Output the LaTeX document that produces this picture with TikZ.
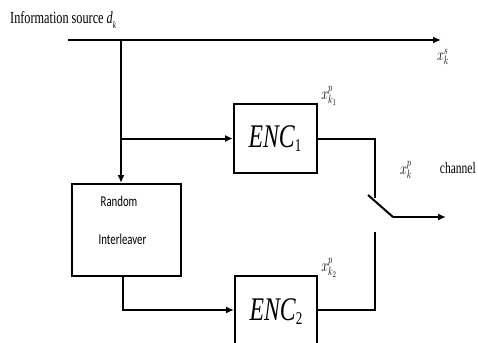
\documentclass[tikz,border=0pt]{standalone}
\usepackage{fontspec}
\usepackage{graphicx}
\setmainfont{Liberation Serif}
\newfontfamily\boxfont{Carlito}
\usetikzlibrary{arrows.meta}
\newcommand{\sqz}[1]{\scalebox{0.72}[1]{#1}}
\tikzset{
  wire/.style={line width=2pt},
  arr/.style={wire,-{Latex[length=8pt,width=7pt]}},
  blk/.style={draw,line width=2pt,rectangle,inner sep=0pt},
  lbl/.style={inner sep=0pt,font=\fontsize{18}{18}\selectfont},
}
\begin{document}
\begin{tikzpicture}[x=1pt,y=-1pt]
\useasboundingbox (0,0) rectangle (478,342);
\clip (0,0) rectangle (478,342);
% blocks
\node[blk,minimum width=83pt,minimum height=69pt] (enc1) at (275.5,138.5) {};
\node[font=\fontsize{33}{33}\selectfont] (enc1t) at (275,139) {\sqz{\textit{ENC}\raisebox{-0.12em}{\fontsize{18}{18}\selectfont 1}}};
\node[blk,minimum width=82pt,minimum height=69pt] (enc2) at (276,310) {};
\node[font=\fontsize{33}{33}\selectfont] (enc2t) at (276,312) {\sqz{\textit{ENC}\raisebox{-0.12em}{\fontsize{18}{18}\selectfont 2}}};
\node[blk,minimum width=109pt,minimum height=92pt] (inter) at (126.5,230) {};
\node[font=\boxfont\fontsize{15}{15}\selectfont] (rnd) at (119,201) {\sqz{Random}};
\node[font=\boxfont\fontsize{15}{15}\selectfont] (intl) at (122.5,239) {\sqz{Interleaver}};
% coordinates
\coordinate (src) at (68,40);
\coordinate (xs) at (441,40);
\coordinate (br) at (121,40);
\coordinate (br2) at (121,138.5);
\coordinate (j1) at (375,138.5);
\coordinate (j1b) at (375,198);
\coordinate (sw1) at (368,195);
\coordinate (sw2) at (393,217);
\coordinate (ch) at (446,217);
\coordinate (j2) at (375,310);
\coordinate (j2b) at (375,232);
% connectors
\draw[arr] (src) -- (xs);
\draw[arr] (br) -- (br |- inter.north);
\draw[arr] (br2) -- (enc1.west);
\draw[wire] (enc1.east) -- (j1) -- (j1b);
\draw[wire] (sw1) -- (sw2);
\draw[arr] (sw2) -- (ch);
\draw[wire] (enc2.east) -- (j2) -- (j2b);
\draw[arr] ([xshift=-3.5pt]inter.south) |- (enc2.west);
% labels
\node[lbl,anchor=west,font=\fontsize{17}{17}\selectfont] (src-l) at (10,20) {\sqz{Information source \textit{d}\raisebox{-0.3em}{\fontsize{10}{10}\selectfont\textit{k}}}};
\node[lbl] (xs-l) at (443,57) {\sqz{$x_k^s$}};
\node[lbl] (xp1-l) at (329,96) {\sqz{$x_{k_1}^p$}};
\node[lbl] (xp-l) at (406,170) {\sqz{$x_k^p$}};
\node[lbl,anchor=east,font=\fontsize{16}{16}\selectfont] (ch-l) at (476,168) {\sqz{channel}};
\node[lbl] (xp2-l) at (329,268) {\sqz{$x_{k_2}^p$}};
\end{tikzpicture}
\end{document}
